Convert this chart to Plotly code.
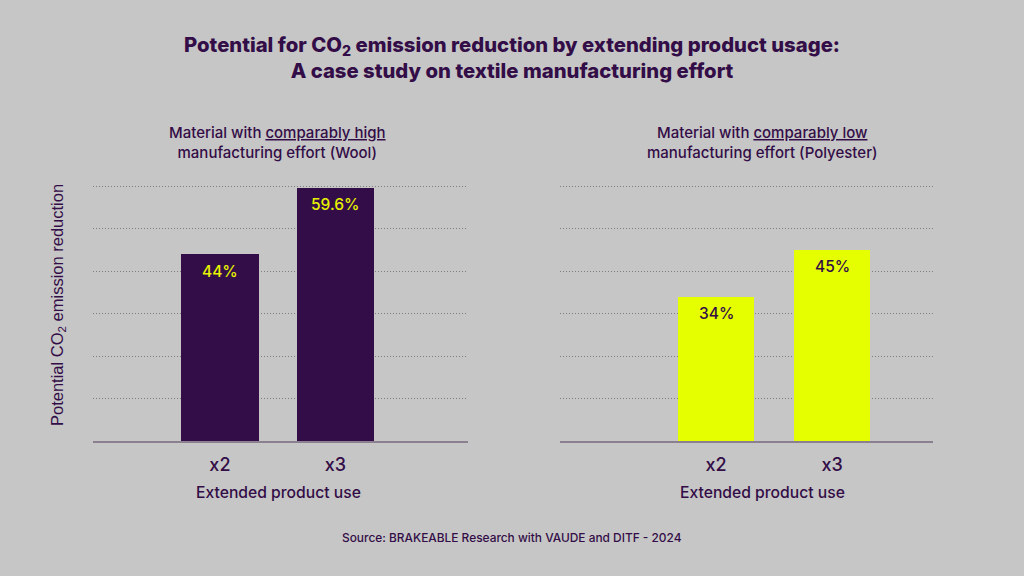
import plotly.graph_objects as go

categories = ["x2", "x3"]
wool_values = [44, 59.6]
polyester_values = [34, 45]
wool_labels = ["44%", "59.6%"]
polyester_labels = ["34%", "45%"]
y_ticks = [0, 10, 20, 30, 40, 50, 60]

BG = "#c6c6c6"
PURPLE = "#330d47"
YELLOW = "#e6ff00"
LABEL_YELLOW = "#e8f200"
GRID = "#7e7e7e"
BASE = "#8a8090"

xpos = list(range(len(categories)))

fig = go.Figure()
fig.add_trace(go.Bar(x=xpos, y=wool_values, marker=dict(color=PURPLE, line=dict(width=0)),
                     width=0.67, xaxis="x", yaxis="y", hoverinfo="skip"))
fig.add_trace(go.Bar(x=xpos, y=polyester_values, marker=dict(color=YELLOW, line=dict(width=0)),
                     width=0.66, xaxis="x2", yaxis="y2", hoverinfo="skip"))


def A(**kw):
    kw.setdefault("showarrow", False)
    kw.setdefault("xanchor", "center")
    kw.setdefault("yanchor", "middle")
    return kw


ann = []
for i, (v, t) in enumerate(zip(wool_values, wool_labels)):
    ann.append(A(x=xpos[i], y=v, xref="x", yref="y", text=t, yshift=-17,
                 font=dict(family="Inter", size=15.5, weight=500, color=LABEL_YELLOW)))
for i, (v, t) in enumerate(zip(polyester_values, polyester_labels)):
    ann.append(A(x=xpos[i], y=v, xref="x2", yref="y2", text=t, yshift=-17,
                 font=dict(family="Inter", size=15.5, weight=500, color=PURPLE)))

TITLE_FONT = dict(family="Inter", size=20.3, weight=800, color=PURPLE)
ann.append(A(x=0.5, y=1 - 58 / 576, xref="paper", yref="paper",
             text="Potential for CO<sub>2</sub> emission reduction by extending product usage:"
                  "<br>A case study on textile manufacturing effort",
             font=TITLE_FONT))
SUB_FONT = dict(family="Inter", size=15, weight=500, color=PURPLE)
ann.append(A(x=277 / 1024, y=1 - 142 / 576, xref="paper", yref="paper",
             text="Material with <u>comparably high</u><br>manufacturing effort (Wool)",
             font=SUB_FONT))
ann.append(A(x=762 / 1024, y=1 - 142 / 576, xref="paper", yref="paper",
             text="Material with <u>comparably low</u><br>manufacturing effort (Polyester)",
             font=SUB_FONT))
AX_FONT = dict(family="Inter", size=15.7, weight=500, color=PURPLE)
ann.append(A(x=278 / 1024, y=1 - 492 / 576, xref="paper", yref="paper",
             text="Extended product use", font=AX_FONT))
ann.append(A(x=762 / 1024, y=1 - 492 / 576, xref="paper", yref="paper",
             text="Extended product use", font=AX_FONT))
ann.append(A(x=58 / 1024, y=1 - 305 / 576, xref="paper", yref="paper", textangle=-90,
             text="Potential CO<sub>2</sub> emission reduction",
             font=dict(family="Liberation Sans", size=16.5, color=PURPLE)))
ann.append(A(x=0.5, y=1 - 537 / 576, xref="paper", yref="paper",
             text="Source: BRAKEABLE Research with VAUDE and DITF - 2024",
             font=dict(family="Inter", size=11.9, weight=500, color=PURPLE)))

ymax = 61
ydom = [1 - 441 / 576, 1 - (441 - 4.25 * ymax) / 576]
xaxis_common = dict(tickmode="array", tickvals=xpos, ticktext=categories, showgrid=False,
                    zeroline=False, showline=True, linecolor=BASE, linewidth=2,
                    ticks="", ticklabelstandoff=6,
                    tickfont=dict(family="Inter", size=18, weight=500, color=PURPLE),
                    fixedrange=True)
yaxis_common = dict(range=[0, ymax], tickvals=y_ticks, showticklabels=False, showgrid=True,
                    gridcolor=GRID, griddash="1px,2px", gridwidth=1, zeroline=False,
                    showline=False, domain=ydom, fixedrange=True)

fig.update_layout(
    width=1024, height=576,
    paper_bgcolor=BG, plot_bgcolor=BG,
    margin=dict(l=0, r=0, t=0, b=0),
    showlegend=False,
    bargap=0,
    xaxis=dict(domain=[93 / 1024, 468 / 1024], range=[-1.1, 2.15], anchor="y", **xaxis_common),
    xaxis2=dict(domain=[560 / 1024, 933 / 1024], range=[-1.345, 1.87], anchor="y2", **xaxis_common),
    yaxis=dict(anchor="x", **yaxis_common),
    yaxis2=dict(anchor="x2", **yaxis_common),
    annotations=ann,
)

fig.write_html("out.html", config={"displayModeBar": False},
               post_script="document.body.style.margin='0';")
